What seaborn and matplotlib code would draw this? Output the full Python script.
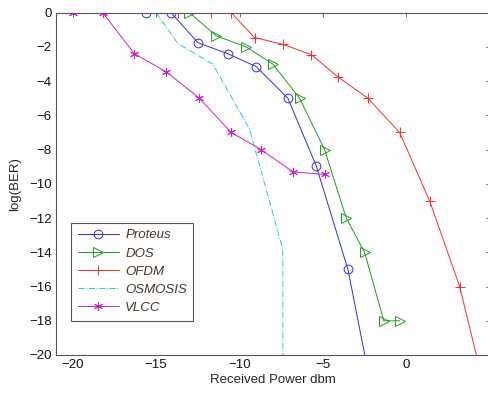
import numpy as np
import pandas as pd
import seaborn as sns
import matplotlib
matplotlib.use("Agg")
import matplotlib.pyplot as plt

# values
proteus_x = [-15.6, -14.1, -12.5, -10.7, -9.0, -7.1, -5.4, -3.5, -2.0]
proteus_y = [0, 0, -1.75, -2.4, -3.15, -5.0, -8.95, -15.0, -22.4]

dos_x = [-13.0, -11.4, -9.6, -8.0, -6.4, -4.9, -3.6, -2.5, -1.35, -0.4]
dos_y = [0, -1.35, -2.0, -3.0, -5.0, -8.0, -12.0, -14.0, -18.0, -18.0]

ofdm_x = [-13.7, -11.7, -10.5, -9.1, -7.4, -5.7, -4.1, -2.3, -0.4, 1.4, 3.2, 4.7]
ofdm_y = [0, 0, 0, -1.45, -1.85, -2.45, -3.75, -5.0, -7.0, -11.0, -16.0, -22.0]

osmosis_x = [-15.0, -13.7, -11.6, -9.4, -7.5, -7.4, -7.4]
osmosis_y = [0, -1.8, -3.0, -6.8, -13.5, -14.0, -20.0]

vlcc_x = [-22.0, -20.0, -18.2, -16.3, -14.4, -12.4, -10.5, -8.7, -6.8, -4.9]
vlcc_y = [0, 0, 0, -2.4, -3.45, -5.0, -7.0, -8.0, -9.3, -9.45]

x_ticks = [-20, -15, -10, -5, 0]
y_ticks = list(range(-20, 1, 2))

sns.set_style("white")
plt.rcParams['font.family'] = ['Liberation Sans', 'DejaVu Sans']

fig = plt.figure(figsize=(4.88, 3.93), dpi=100)
ax = fig.add_axes([0.1148, 0.0967, 0.8887, 0.871])

series = [
    ("Proteus", proteus_x, proteus_y, "#2b2bff", dict(marker="o", markersize=6.3, mfc="none", linestyle="-")),
    ("DOS", dos_x, dos_y, "#1f991f", dict(marker=">", markersize=7, mfc="none", linestyle="-")),
    ("OFDM", ofdm_x, ofdm_y, "#ff2a2a", dict(marker="+", markersize=7, linestyle="-")),
    ("OSMOSIS", osmosis_x, osmosis_y, "#22cccc", dict(marker="", linestyle="-.")),
    ("VLCC", vlcc_x, vlcc_y, "#cc22cc", dict(marker=(6, 2, 0), markersize=6.3, mfc="#cc22cc", linestyle="-")),
]

for name, xs, ys, col, style in series:
    df = pd.DataFrame({"x": xs, "y": ys})
    sns.lineplot(data=df, x="x", y="y", sort=False, estimator=None, ax=ax,
                 label=name, color=col, mec=col, linewidth=0.7,
                 markeredgewidth=0.7, **style)
    # small filled dot in the centre of the asterisk markers
    if name == "VLCC":
        sns.scatterplot(data=df, x="x", y="y", ax=ax, color=col, s=5,
                        linewidth=0, legend=False)

ax.set_xlim(-21, 5)
ax.set_ylim(-20, 0)
ax.set_xticks(x_ticks)
ax.set_yticks(y_ticks)
ax.set_xticklabels(["\u221220", "\u221215", "\u221210", "\u22125", "0"])
ax.set_yticklabels(["\u2212%d" % -v if v < 0 else "0" for v in y_ticks])
ax.tick_params(direction="in", length=3, width=0.6, labelsize=9.5,
               top=True, right=True, pad=3)
ax.tick_params(colors="#555555", labelcolor="#111111")
for sp in ax.spines.values():
    sp.set_color("#555555")
    sp.set_linewidth(0.8)
ax.set_xlabel("Received Power dbm", fontsize=9.5, labelpad=2)
ax.set_ylabel("log(BER)", fontsize=9.5, labelpad=6)

leg = ax.legend(loc="lower left", bbox_to_anchor=(0.0346, 0.1002), borderaxespad=0,
                fancybox=False, framealpha=1, edgecolor="#555555",
                handlelength=3.1, labelspacing=0.45, borderpad=0.5, handletextpad=0.5,
                prop={"style": "italic", "size": 9.5})
leg.get_frame().set_linewidth(0.8)
for t in leg.get_texts():
    t.set_color("#45382d")

fig.savefig("out.png", dpi=100)
